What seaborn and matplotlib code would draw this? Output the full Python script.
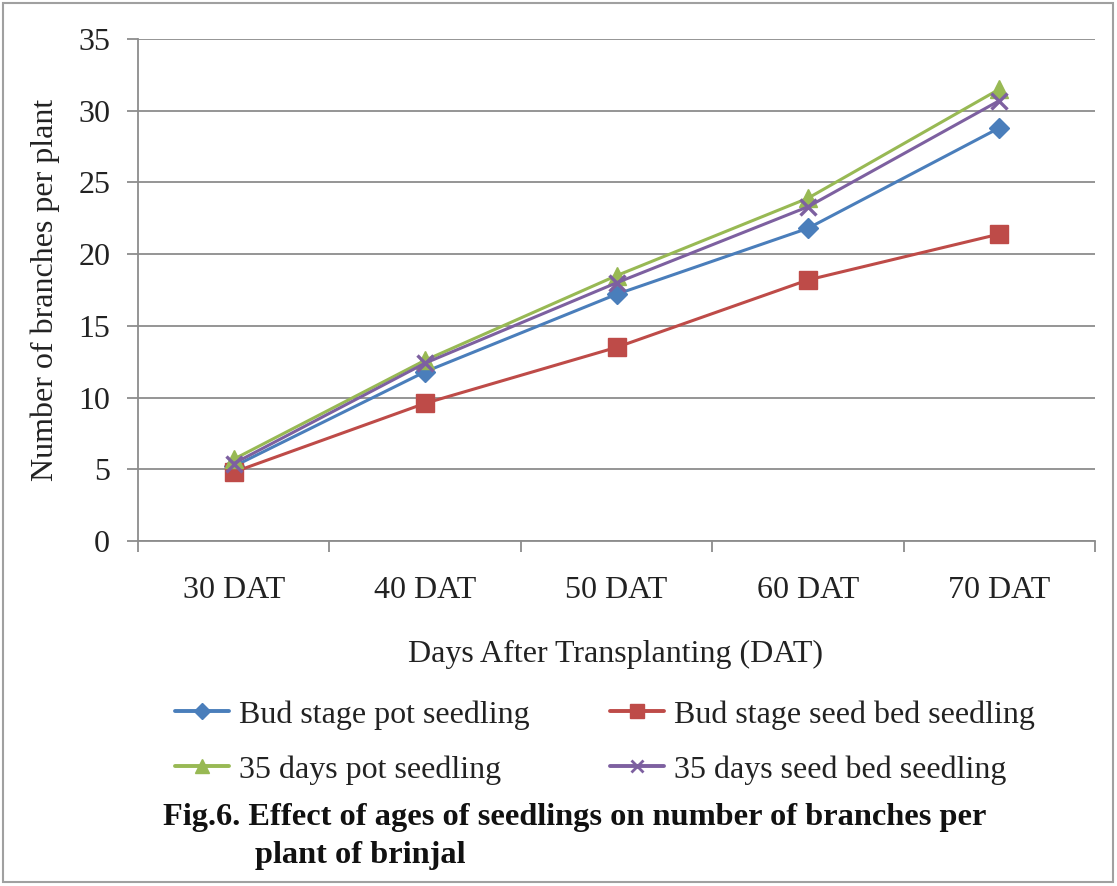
import matplotlib
matplotlib.use("Agg")
import matplotlib.pyplot as plt
from matplotlib.lines import Line2D
from matplotlib.patches import Rectangle
import seaborn as sns
import pandas as pd

# Data: number of branches per plant of brinjal
stages = ["30 DAT", "40 DAT", "50 DAT", "60 DAT", "70 DAT"]
bud_pot = [5.2, 11.8, 17.2, 21.8, 28.8]
bud_bed = [4.8, 9.6, 13.5, 18.2, 21.4]
days35_pot = [5.7, 12.6, 18.5, 23.9, 31.5]
days35_bed = [5.4, 12.4, 18.0, 23.3, 30.7]

series_names = ["Bud stage pot seedling", "Bud stage seed bed seedling",
                "35 days pot seedling", "35 days seed bed seedling"]

df = pd.DataFrame({
    "stage": stages * 4,
    "branches": bud_pot + bud_bed + days35_pot + days35_bed,
    "series": [n for n in series_names for _ in stages],
})

sns.set_theme(style="white")
plt.rcParams["font.family"] = ["Liberation Serif", "DejaVu Serif"]

colors = {"Bud stage pot seedling": "#4A7EBB",
          "Bud stage seed bed seedling": "#BE4B48",
          "35 days pot seedling": "#98B954",
          "35 days seed bed seedling": "#7D60A0"}
markers = {"Bud stage pot seedling": "D",
           "Bud stage seed bed seedling": "s",
           "35 days pot seedling": "^",
           "35 days seed bed seedling": "x"}
msizes = {"Bud stage pot seedling": 10.5,
          "Bud stage seed bed seedling": 12.5,
          "35 days pot seedling": 12.5,
          "35 days seed bed seedling": 11.5}

FS = 23
TXT = "#222222"
W, H = 1117, 886
fig = plt.figure(figsize=(W / 100, H / 100), dpi=100)
ax = fig.add_axes([138 / W, 1 - 541 / H, 957 / W, 502 / H])

for name in series_names:
    sub = df[df["series"] == name]
    sns.lineplot(data=sub, x="stage", y="branches", ax=ax, color=colors[name],
                 marker=markers[name], markersize=msizes[name],
                 markeredgecolor=colors[name],
                 markeredgewidth=2.4 if markers[name] == "x" else 1,
                 linewidth=2.2, legend=False, sort=False)

grid_col = "#8C8C8C"
ax.set_ylim(0, 35)
ax.set_xlim(-0.5, len(stages) - 0.5)
ax.set_yticks(range(0, 36, 5))
ax.yaxis.grid(True, color=grid_col, linewidth=1.3)
ax.xaxis.grid(False)
ax.set_axisbelow(True)
for s in ["top", "right"]:
    ax.spines[s].set_visible(False)
for s in ["left", "bottom"]:
    ax.spines[s].set_color(grid_col)
    ax.spines[s].set_linewidth(1.3)

ax.set_xticks(range(len(stages)))
ax.set_xticklabels(stages)
ax.set_xticks([i - 0.5 for i in range(len(stages) + 1)], minor=True)
ax.tick_params(axis="x", which="major", length=0, pad=25, labelsize=FS, colors=TXT)
ax.tick_params(axis="x", which="minor", length=8, width=1.3, color=grid_col,
               direction="out", bottom=True)
ax.tick_params(axis="y", which="major", length=8, width=1.3, color=grid_col,
               direction="out", pad=12, labelsize=FS, labelcolor=TXT, left=True)

ax.set_xlabel("Days After Transplanting (DAT)", fontsize=FS, color=TXT)
ax.set_ylabel("Number of branches per plant", fontsize=FS, color=TXT)
ax.xaxis.set_label_coords(0.499, -0.197)
ax.yaxis.set_label_coords(-0.081, 0.5)


def handle(name):
    return Line2D([], [], color=colors[name], marker=markers[name],
                  markersize=msizes[name] * 0.8, markeredgecolor=colors[name],
                  markeredgewidth=2 if markers[name] == "x" else 1, linewidth=2.8)


leg_kw = dict(frameon=False, fontsize=FS, handlelength=1.7, handletextpad=0.3,
              labelspacing=0.8, borderpad=0, borderaxespad=0, loc="upper left")
for col, names in enumerate([[series_names[0], series_names[2]],
                             [series_names[1], series_names[3]]]):
    x0 = [175, 610][col]
    leg = fig.legend([handle(n) for n in names], names,
                     bbox_to_anchor=(x0 / W, 1 - 700 / H), **leg_kw)
    for t in leg.get_texts():
        t.set_color(TXT)

fig.text(163 / W, 1 - 818 / H, "Fig.6. Effect of ages of seedlings on number of branches per",
         fontsize=23.3, fontweight="bold", ha="left", va="center", color="#111111")
fig.text(255 / W, 1 - 856 / H, "plant of brinjal",
         fontsize=23.3, fontweight="bold", ha="left", va="center", color="#111111")

fig.patches.append(Rectangle((3 / W, 4 / H), 1110 / W, 879 / H, transform=fig.transFigure,
                             fill=False, edgecolor="#A0A0A0", linewidth=1.5))

fig.savefig("out.png", dpi=100, facecolor="white")
